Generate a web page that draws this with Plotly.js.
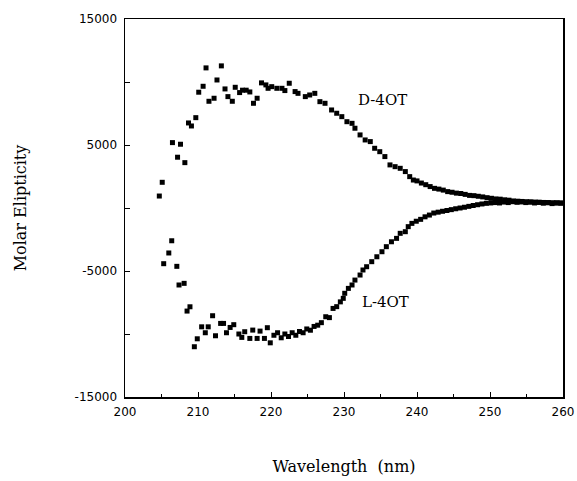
<!DOCTYPE html>
<html>
<head>
<meta charset="utf-8">
<script src="https://cdn.plot.ly/plotly-3.0.1.min.js"></script>
<style>html,body{margin:0;padding:0;background:#fff;}#chart{width:577px;height:481px;}</style>
</head>
<body>
<div id="chart"></div>
<script>
// D-4OT series: wavelength (nm) and molar ellipticity
const dWave = [204.7,205.1,206.5,207.2,207.6,208.2,208.7,209.1,209.7,210.1,210.7,211.1,211.5,212.2,212.6,213.2,213.7,214.1,214.7,215.1,215.7,216.1,216.6,217.1,217.6,218.1,218.7,219.3,219.6,220.1,220.8,221.5,221.9,222.5,223.3,223.7,224.7,225.3,226.0,226.7,227.4,228.3,229.0,229.7,230.4,231.1,231.5,232.2,232.9,233.6,234.2,234.9,235.6,236.3,237.0,237.7,238.4,239.0,239.5,240.0,240.6,241.2,241.8,242.4,243.0,243.6,244.2,244.8,245.4,246.0,246.6,247.2,247.8,248.4,249.0,249.6,250.2,250.8,251.4,252.0,252.6,253.2,253.8,254.4,255.0,255.6,256.2,256.8,257.4,258.0,258.6,259.2,259.8];
const dVal = [950,2040,5190,4030,5060,3600,6750,6510,7170,9190,9660,11120,8470,8710,10160,11280,9450,8840,8470,9580,9160,9350,9350,9210,8310,8710,9930,9770,9500,9630,9500,9500,9320,9900,9240,9100,8840,8970,9100,8440,8310,7780,7520,7250,6850,6720,6330,5800,5400,5270,4740,4470,4080,3420,3280,3150,2890,2490,2220,2150,1980,1850,1700,1560,1500,1420,1300,1250,1180,1150,1080,1000,980,930,880,820,770,720,700,650,620,560,540,520,500,480,470,450,440,430,420,410,400];

// L-4OT series
const lWave = [205.3,206.0,206.4,207.1,207.4,208.1,208.5,208.9,209.5,209.9,210.5,211.0,211.4,212.0,212.4,213.1,213.5,213.9,214.4,214.9,215.6,216.0,216.4,217.1,217.5,218.1,218.5,219.1,219.5,219.9,220.4,220.9,221.4,221.9,222.4,222.9,223.4,223.9,224.4,224.9,225.4,225.9,226.4,226.9,227.5,228.0,228.5,229.0,229.5,229.9,230.1,230.6,231.1,231.5,232.2,232.6,233.1,233.8,234.5,235.2,235.8,236.5,237.2,237.7,238.4,238.8,239.3,239.9,240.5,241.1,241.7,242.3,242.9,243.5,244.1,244.7,245.3,245.9,246.5,247.1,247.7,248.3,248.9,249.5,250.1,250.7,251.3,251.9,252.5,253.1,253.7,254.3,254.9,255.5,256.1,256.7,257.3,257.9,258.5,259.1,259.7];
const lVal = [-4420,-3570,-2600,-4630,-6110,-5980,-8180,-7840,-11010,-10380,-9430,-9900,-9430,-8550,-10140,-9160,-9160,-9900,-9480,-9260,-10000,-10270,-9820,-10350,-9690,-10350,-9770,-10350,-9500,-10700,-10100,-9900,-10300,-10000,-10200,-9900,-10100,-9800,-9900,-9600,-9700,-9400,-9300,-9100,-8630,-8700,-7970,-7830,-7450,-7170,-6770,-6380,-6110,-5720,-5320,-4920,-4660,-4260,-3870,-3470,-3070,-2680,-2410,-2010,-1880,-1480,-1220,-1050,-900,-700,-560,-400,-330,-260,-200,-130,-60,0,60,130,200,260,320,370,400,430,400,470,430,500,450,480,430,470,400,450,380,420,350,400,380];

const seriesNames = ['D-4OT','L-4OT'];
const xTitle = 'Wavelength  (nm)';
const yTitle = 'Molar Elipticity';
const yTickVals = [-15000,-5000,5000,15000];
const yTickText = ['-15000','-5000','5000','15000'];

const mk = {symbol:'square', size:5, color:'#000'};
const traces = [
  {x:dWave, y:dVal, mode:'markers', type:'scatter', name:seriesNames[0], marker:mk},
  {x:lWave, y:lVal, mode:'markers', type:'scatter', name:seriesNames[1], marker:mk}
];

const serif = 'DejaVu Serif, Liberation Serif, serif';
const sans = 'DejaVu Sans, Arial, sans-serif';

const layout = {
  width:577, height:481,
  margin:{l:125, r:14, t:19, b:84},
  paper_bgcolor:'#fff', plot_bgcolor:'#fff',
  showlegend:false,
  xaxis:{
    range:[200,260], tick0:200, dtick:10, tickformat:'d',
    ticks:'inside', ticklen:5, tickcolor:'#000', tickwidth:1,
    minor:{dtick:5, ticks:'inside', ticklen:3, tickcolor:'#000', showgrid:false},
    showline:true, linecolor:'#000', linewidth:1.5, mirror:true,
    showgrid:false, zeroline:false, ticklabelstandoff:3,
    tickfont:{family:sans, size:12, color:'#000'},
    title:{text:xTitle, font:{family:serif, size:16, color:'#000'}, standoff:43}
  },
  yaxis:{
    range:[-15000,15000], tickmode:'array', tickvals:yTickVals, ticktext:yTickText,
    ticks:'inside', ticklen:5, tickcolor:'#000', tickwidth:1,
    minor:{tickmode:'linear', tick0:-15000, dtick:5000, ticks:'inside', ticklen:5, tickcolor:'#000', showgrid:false},
    showline:true, linecolor:'#000', linewidth:1.5, mirror:true,
    showgrid:false, zeroline:false, ticklabelstandoff:4,
    tickfont:{family:sans, size:12, color:'#000'},
    title:{text:yTitle, font:{family:serif, size:16, color:'#000'}, standoff:44}
  },
  annotations:[
    {x:235.3, y:8575, xref:'x', yref:'y', text:seriesNames[0], showarrow:false, font:{family:serif, size:15, color:'#000'}},
    {x:235.75, y:-7460, xref:'x', yref:'y', text:seriesNames[1], showarrow:false, font:{family:serif, size:15, color:'#000'}}
  ]
};

Plotly.newPlot('chart', traces, layout, {displayModeBar:false, staticPlot:true});
</script>
</body>
</html>
